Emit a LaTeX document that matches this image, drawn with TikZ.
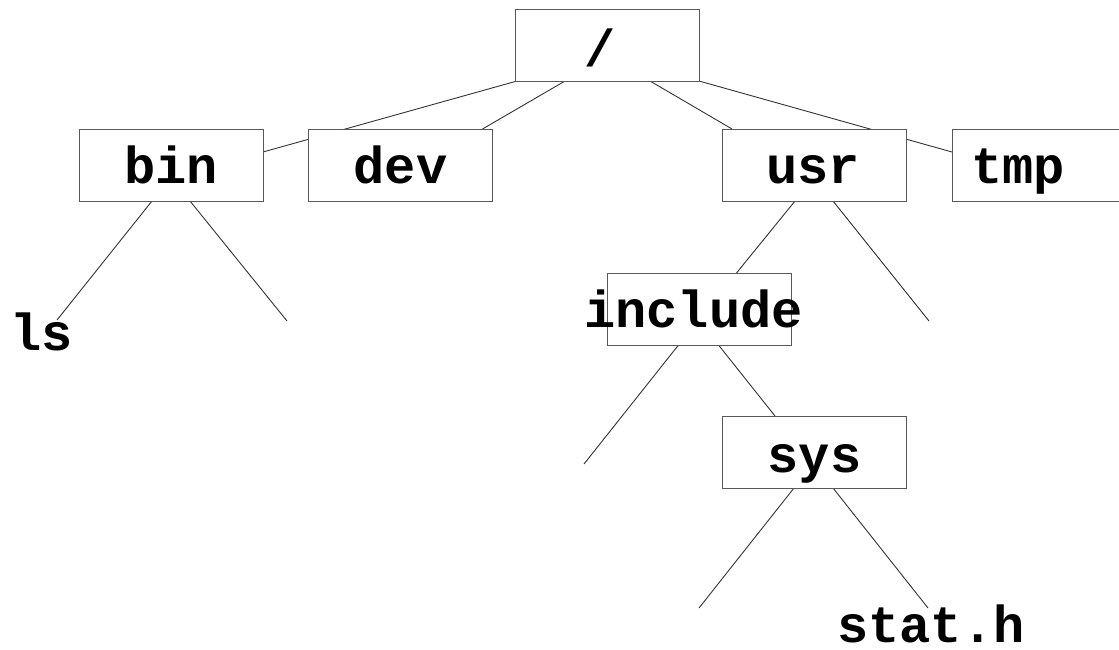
\documentclass[tikz,border=0pt]{standalone}
\usepackage{fontspec}
\newfontfamily\treemono{Liberation Mono}
\usetikzlibrary{calc}
\pgfdeclarelayer{bg}
\pgfsetlayers{bg,main}
\begin{document}
\begin{tikzpicture}[x=1pt,y=-1pt,
  dirbox/.style={draw=black!65,fill=white,line width=1pt,minimum width=184pt,
    minimum height=72pt,inner sep=0pt,outer sep=0pt},
  dirlabel/.style={anchor=base,inner sep=0pt,font=\treemono\fontsize{52}{60}\selectfont\bfseries},
  branch/.style={draw=black!80,line width=0.9pt}]
\useasboundingbox (0,0) rectangle (1119,649);
\clip (0,0) rectangle (1119,649);

% directory boxes
\node[dirbox] (root)    at (607,45)    {};
\node[dirbox] (bin)     at (171,165)   {};
\node[dirbox] (dev)     at (400.5,165) {};
\node[dirbox] (usr)     at (814,165)   {};
\node[dirbox,minimum width=200pt] (tmp) at (1052,165) {};
\node[dirbox] (include) at (699.5,309) {};
\node[dirbox] (sys)     at (814,452)   {};

% names
\node[dirlabel] (troot)    at (600,66)    {/};
\node[dirlabel] (tbin)     at (171,183)   {bin};
\node[dirlabel] (tdev)     at (400.5,183) {dev};
\node[dirlabel] (tusr)     at (813,183)   {usr};
\node[dirlabel] (ttmp)     at (1018,183)  {tmp};
\node[dirlabel] (tinclude) at (693.5,327) {include};
\node[dirlabel] (tsys)     at (814.5,472) {sys};
\node[dirlabel] (tls)      at (41.5,350)  {ls};
\node[dirlabel] (tstat)    at (931,642)   {stat.h};

% free ends of the leaf branches
\coordinate (binL)  at (57,320);
\coordinate (binR)  at (287,321);
\coordinate (usrR)  at (929,321);
\coordinate (incL)  at (584,464);
\coordinate (sysL)  at (699,608);
\coordinate (sysR)  at (928,608);

\begin{pgfonlayer}{bg}
  \draw[branch] ($(root.south west)+(2,0)$)   -- ($(bin.north east)+(0,23)$);
  \draw[branch] ($(root.south west)+(50,0)$)  -- ($(dev.north east)+(-10,0)$);
  \draw[branch] ($(root.south east)+(-49,0)$) -- ($(usr.north west)+(10,0)$);
  \draw[branch] (root.south east)             -- ($(tmp.north west)+(0,23)$);
  \draw[branch] ($(bin.south west)+(73,0)$)   -- (binL);
  \draw[branch] ($(bin.south west)+(111,0)$)  -- (binR);
  \draw[branch] ($(usr.south west)+(73,0)$)   -- ($(include.north west)+(129,0)$);
  \draw[branch] ($(usr.south west)+(111,0)$)  -- (usrR);
  \draw[branch] ($(include.south west)+(71,0)$)  -- (incL);
  \draw[branch] ($(include.south west)+(111,0)$) -- ($(sys.north west)+(53,0)$);
  \draw[branch] ($(sys.south west)+(72,0)$)   -- (sysL);
  \draw[branch] ($(sys.south west)+(111,0)$)  -- (sysR);
\end{pgfonlayer}
\end{tikzpicture}
\end{document}
